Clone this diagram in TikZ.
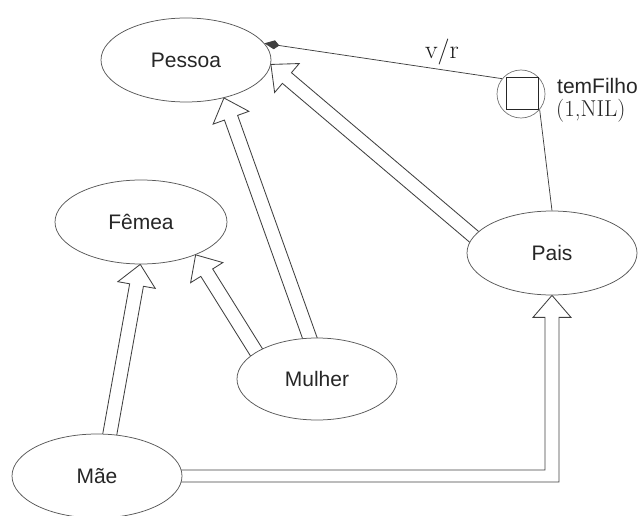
\documentclass[tikz,border=0pt]{standalone}
\usepackage{fontspec}
\setsansfont{Liberation Sans}
\usetikzlibrary{shapes.geometric,calc,arrows.meta}
\pgfdeclarelayer{bg}
\pgfsetlayers{bg,main}
\newcommand\hollowarrow[2]{%
  \path ($(#1)!-14pt!(#2)$) coordinate (ha-s)
        ($(#2)!21pt!(#1)$) coordinate (ha-b);
  \draw[shaft] ($(ha-s)!7pt!90:(#2)$) -- ($(ha-b)!7pt!90:(#2)$)
    -- ($(ha-b)!19pt!90:(#2)$) -- (#2) -- ($(ha-b)!19pt!-90:(#2)$)
    -- ($(ha-b)!7pt!-90:(#2)$) -- ($(ha-s)!7pt!-90:(#2)$);
}
\begin{document}
\begin{tikzpicture}[x=1pt,y=-1pt,
  concept/.style={ellipse,draw=black!65,line width=0.75pt,fill=white,inner sep=0pt,
    font=\sffamily\fontsize{21}{25}\selectfont,text=black!85},
  shaft/.style={draw=black!75,line width=0.85pt,line join=miter},
  link/.style={draw=black!75,line width=0.75pt}]
\useasboundingbox (0,0) rectangle (643,516);
\clip (0,0) rectangle (643,516);

\node[concept,minimum width=170pt,minimum height=84pt] (Pessoa) at (186,60) {Pessoa};
\node[concept,minimum width=172pt,minimum height=84pt] (Femea) at (141,222) {Fêmea};
\node[concept,minimum width=160pt,minimum height=82pt] (Mulher) at (317,379) {Mulher};
\node[concept,minimum width=170pt,minimum height=84pt] (Mae) at (97,476) {Mãe};
\node[concept,minimum width=170pt,minimum height=84pt] (Pais) at (552,253) {Pais};

\node[circle,draw=black!55,line width=0.7pt,minimum size=48pt,inner sep=0pt] (circ) at (521,94) {};
\node[rectangle,draw=black!85,line width=0.9pt,minimum size=32pt,inner sep=0pt] (sq) at (522,93.5) {};

\node[anchor=west,inner sep=0pt,font=\sffamily\fontsize{21}{25}\selectfont,text=black!85] (tf) at (557,86) {temFilho};
\node[anchor=west,inner sep=0pt,font=\fontsize{23}{27}\selectfont,text=black!85] (card) at (556,111) {(1,NIL)};
\node[inner sep=0pt,font=\fontsize{26}{30}\selectfont,text=black!90] (vr) at (442,52) {v/r};

\draw[link,-{Kite[length=15pt,width=9pt,inset=5pt]}] (circ.141) -- (Pessoa.12);
\draw[link] (circ.-40) -- (Pais.north);

\begin{pgfonlayer}{bg}
\hollowarrow{Pais.168}{Pessoa.-3}
\hollowarrow{Mulher.100}{Pessoa.-45}
\hollowarrow{Mulher.156}{Femea.-31}
\hollowarrow{Mae.73}{Femea.-91}
\path (Pais.south) coordinate (pt)
      (Pais.south |- Mae.east) coordinate (cr);
\draw[shaft] ($(Mae.east)+(-14,-6)$) -- ($(cr)+(-7,-6)$) -- ($(pt)+(-7,22)$)
  -- ($(pt)+(-19,22)$) -- (pt) -- ($(pt)+(19,22)$) -- ($(pt)+(7,22)$)
  -- ($(cr)+(7,6)$) -- ($(Mae.east)+(-14,6)$);
\end{pgfonlayer}
\end{tikzpicture}
\end{document}
